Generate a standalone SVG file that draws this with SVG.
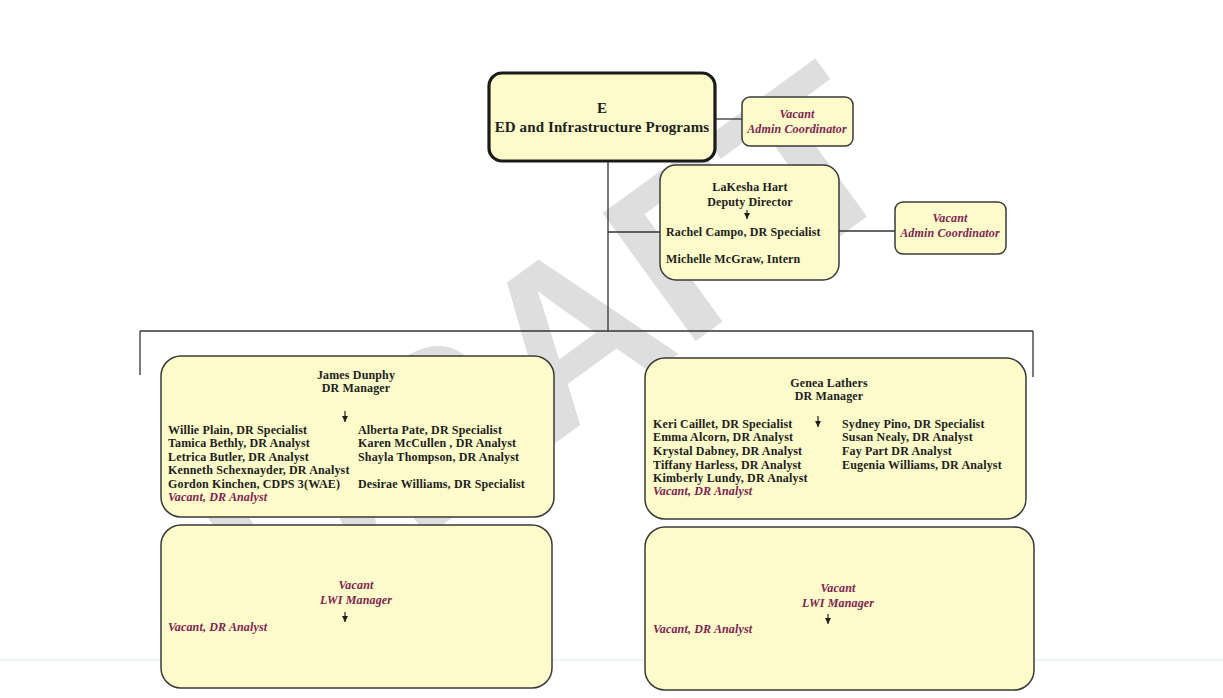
<svg xmlns="http://www.w3.org/2000/svg" width="1223" height="698" viewBox="0 0 1223 698">
<defs>
<style>
.bg{fill:#ffffff}
.box{fill:#fdfbc9;stroke:#3a3a3a;stroke-width:1.5}
.top{fill:#fdfbc9;stroke:#1a1a1a;stroke-width:3.2}
.ln{stroke:#333;stroke-width:1.3;fill:none}
.t{font-family:"Liberation Serif","DejaVu Serif",serif;font-weight:bold;font-size:12px;letter-spacing:0.15px;fill:#1e1e1e}
.c{text-anchor:middle}
.v{font-style:italic;fill:#7e2452}
.big{font-size:15px;letter-spacing:0.1px}
.wm{font-family:"Liberation Sans","DejaVu Sans",sans-serif;font-weight:bold;font-size:230px;fill:#dedede}
</style>
<marker id="ah" markerWidth="7" markerHeight="7" refX="6" refY="3" orient="auto" markerUnits="userSpaceOnUse">
<path d="M0,0 L6,3 L0,6 z" fill="#1e1e1e"/>
</marker>
</defs>
<rect class="bg" x="0" y="0" width="1223" height="698"/>
<text class="wm" transform="translate(280,643) rotate(-36)">DRAFT</text>
<line x1="0" y1="660" x2="1223" y2="660" stroke="#d9eeec" stroke-width="1"/>
<g id="connectors">
<line class="ln" x1="716" y1="119" x2="742" y2="119"/>
<line class="ln" x1="608" y1="161" x2="608" y2="331"/>
<line class="ln" x1="608" y1="232" x2="660" y2="232"/>
<line class="ln" x1="839" y1="231" x2="895" y2="231"/>
<line class="ln" x1="140" y1="331" x2="1033" y2="331"/>
<line class="ln" x1="140" y1="331" x2="140" y2="375"/>
<line class="ln" x1="1033" y1="331" x2="1033" y2="377"/>
</g>
<g id="n-director">
<rect class="top" x="489" y="73" width="226" height="88" rx="13"/>
<text class="t c big" x="602" y="113">E</text>
<text class="t c big" x="602" y="132">ED and Infrastructure Programs</text>
</g>
<g id="n-admin1">
<rect class="box" x="742" y="97" width="111" height="49" rx="8"/>
<text class="t c v" x="797" y="118">Vacant</text>
<text class="t c v" x="797" y="133">Admin Coordinator</text>
</g>
<g id="n-deputy">
<rect class="box" x="660" y="165" width="179" height="115" rx="16"/>
<text class="t c" x="750" y="191">LaKesha Hart</text>
<text class="t c" x="750" y="206">Deputy Director</text>
<line class="ln" x1="747" y1="210" x2="747" y2="219" marker-end="url(#ah)"/>
<text class="t" x="666" y="236">Rachel Campo, DR Specialist</text>
<text class="t" x="666" y="263">Michelle McGraw, Intern</text>
</g>
<g id="n-admin2">
<rect class="box" x="895" y="202" width="111" height="52" rx="8"/>
<text class="t c v" x="950" y="222">Vacant</text>
<text class="t c v" x="950" y="237">Admin Coordinator</text>
</g>
<g id="n-dunphy">
<rect class="box" x="161" y="356" width="393" height="161" rx="20"/>
<text class="t c" x="356" y="379">James Dunphy</text>
<text class="t c" x="356" y="392">DR Manager</text>
<line class="ln" x1="345" y1="411" x2="345" y2="422" marker-end="url(#ah)"/>
<text class="t" x="168" y="434">Willie Plain, DR Specialist</text>
<text class="t" x="168" y="447">Tamica Bethly, DR Analyst</text>
<text class="t" x="168" y="461">Letrica Butler, DR Analyst</text>
<text class="t" x="168" y="474">Kenneth Schexnayder, DR Analyst</text>
<text class="t" x="168" y="488">Gordon Kinchen, CDPS  3(WAE)</text>
<text class="t v" x="168" y="501">Vacant, DR Analyst</text>
<text class="t" x="358" y="434">Alberta Pate, DR Specialist</text>
<text class="t" x="358" y="447">Karen McCullen , DR Analyst</text>
<text class="t" x="358" y="461">Shayla Thompson, DR Analyst</text>
<text class="t" x="358" y="488">Desirae Williams, DR Specialist</text>
</g>
<g id="n-lathers">
<rect class="box" x="645" y="358" width="381" height="161" rx="20"/>
<text class="t c" x="829" y="387">Genea Lathers</text>
<text class="t c" x="829" y="400">DR Manager</text>
<line class="ln" x1="818" y1="416" x2="818" y2="427" marker-end="url(#ah)"/>
<text class="t" x="653" y="428">Keri Caillet, DR Specialist</text>
<text class="t" x="653" y="441">Emma Alcorn, DR Analyst</text>
<text class="t" x="653" y="455">Krystal Dabney, DR Analyst</text>
<text class="t" x="653" y="469">Tiffany Harless, DR Analyst</text>
<text class="t" x="653" y="482">Kimberly Lundy, DR Analyst</text>
<text class="t v" x="653" y="495">Vacant, DR Analyst</text>
<text class="t" x="842" y="428">Sydney Pino, DR Specialist</text>
<text class="t" x="842" y="441">Susan Nealy, DR Analyst</text>
<text class="t" x="842" y="455">Fay Part DR Analyst</text>
<text class="t" x="842" y="469">Eugenia Williams, DR Analyst</text>
</g>
<g id="n-lwi1">
<rect class="box" x="161" y="525" width="391" height="163" rx="20"/>
<text class="t c v" x="356" y="589">Vacant</text>
<text class="t c v" x="356" y="604">LWI Manager</text>
<line class="ln" x1="345" y1="612" x2="345" y2="622" marker-end="url(#ah)"/>
<text class="t v" x="168" y="631">Vacant, DR Analyst</text>
</g>
<g id="n-lwi2">
<rect class="box" x="645" y="527" width="389" height="163" rx="20"/>
<text class="t c v" x="838" y="592">Vacant</text>
<text class="t c v" x="838" y="607">LWI Manager</text>
<line class="ln" x1="828" y1="614" x2="828" y2="624" marker-end="url(#ah)"/>
<text class="t v" x="653" y="633">Vacant, DR Analyst</text>
</g>
</svg>
